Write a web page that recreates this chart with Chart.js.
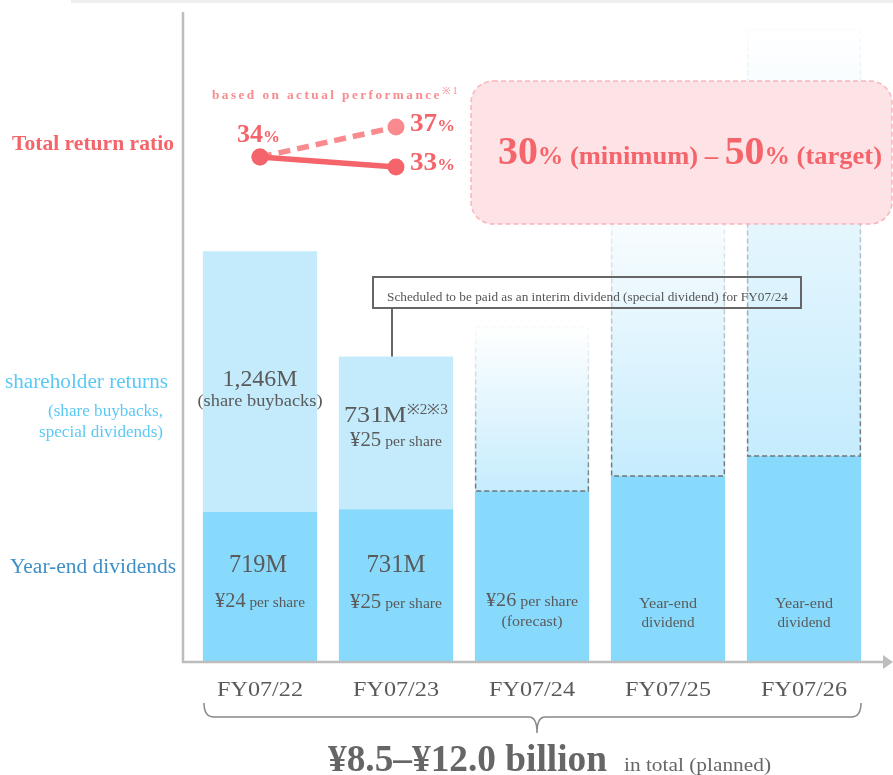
<!DOCTYPE html>
<html>
<head>
<meta charset="utf-8">
<script src="https://cdn.jsdelivr.net/npm/chart.js@4.4.1/dist/chart.umd.min.js"></script>
<style>
  html, body { margin: 0; padding: 0; background: #fff; }
  #wrap { width: 893px; height: 775px; position: relative; }
</style>
</head>
<body>
<div id="wrap"><canvas id="chart" width="893" height="775"></canvas></div>
<script>
// data (millions of yen / %)
const years = ['FY07/22', 'FY07/23', 'FY07/24', 'FY07/25', 'FY07/26'];
const yearEndDividends = [719, 731, 818, 890, 986];
const shareholderReturns = [1246, 731, 785, 1368, 2038];
const ratioActual = [34, 33, null, null, null];
const ratioPerformance = [34, 37, null, null, null];
const ratioLabels = ['34', '33', '37'];

const SERIF = '"Liberation Serif", "Times New Roman", serif';
const DARK_BLUE = '#88dafd';
const LIGHT_BLUE = '#c4ebfc';
const RED = '#f4646a';
const RED_LIGHT = '#f98b8f';
const GRAY_TEXT = '#5a5a5a';

// draws a row of text pieces with their own fonts; w = width to fit (stretches horizontally)
function rich(ctx, parts, x, y, align, w) {
    let total = 0;
    parts.forEach(p => { ctx.font = p.font; total += ctx.measureText(p.t).width; });
    const sx = w ? w / total : 1;
    const full = total * sx;
    let cx = align === 'center' ? x - full / 2 : (align === 'right' ? x - full : x);
    ctx.textAlign = 'left';
    ctx.textBaseline = 'alphabetic';
    parts.forEach(p => {
        ctx.font = p.font;
        if (p.c) ctx.fillStyle = p.c;
        ctx.save();
        ctx.translate(cx, y - (p.dy || 0));
        ctx.scale(sx, 1);
        ctx.fillText(p.t, 0, 0);
        ctx.restore();
        cx += ctx.measureText(p.t).width * sx;
    });
}

const lightFill = (c) => {
    const chart = c.chart;
    if (c.type !== 'data' || c.dataIndex < 2 || !chart.chartArea) return LIGHT_BLUE;
    const y = chart.scales.y;
    const i = c.dataIndex;
    const top = y.getPixelForValue(yearEndDividends[i] + shareholderReturns[i]);
    const bottom = y.getPixelForValue(yearEndDividends[i]);
    const g = chart.ctx.createLinearGradient(0, top, 0, bottom);
    g.addColorStop(0, 'rgba(255,255,255,1)');
    g.addColorStop(0.3, '#eef9fe');
    g.addColorStop(1, '#c6ecfd');
    return g;
};

const decor = {
    id: 'decor',
    afterDatasetsDraw(chart) {
        const ctx = chart.ctx;
        const light = chart.getDatasetMeta(1).data;
        ctx.save();
        // dashed outline of planned returns
        light.forEach((bar, i) => {
            if (i < 2) return;
            const p = bar.getProps(['x', 'y', 'base', 'width'], true);
            const g = ctx.createLinearGradient(0, p.y, 0, p.base);
            g.addColorStop(0, 'rgba(150,170,180,0.05)');
            g.addColorStop(0.35, 'rgba(140,150,155,0.35)');
            g.addColorStop(1, 'rgba(110,110,110,0.95)');
            ctx.strokeStyle = g;
            ctx.lineWidth = 1.5;
            ctx.setLineDash([5, 3]);
            ctx.strokeRect(p.x - p.width / 2 + 0.75, p.y, p.width - 1.5, p.base - p.y);
        });
        ctx.setLineDash([]);
        ctx.restore();
    },
    afterDraw(chart) {
        const ctx = chart.ctx;
        const x = chart.scales.x;
        const light = chart.getDatasetMeta(1).data;
        const perf = chart.getDatasetMeta(2).data;
        const act = chart.getDatasetMeta(3).data;
        ctx.save();

        // top strip
        ctx.fillStyle = '#efefef';
        ctx.fillRect(71, 0, 822, 3);

        // axes
        ctx.strokeStyle = '#bdbdbd';
        ctx.lineWidth = 2.5;
        ctx.beginPath();
        ctx.moveTo(183, 12);
        ctx.lineTo(183, 662);
        ctx.lineTo(885, 662);
        ctx.stroke();
        ctx.fillStyle = '#bdbdbd';
        ctx.beginPath();
        ctx.moveTo(883, 655);
        ctx.lineTo(893, 662);
        ctx.lineTo(883, 669);
        ctx.closePath();
        ctx.fill();

        // left labels
        ctx.fillStyle = RED;
        rich(ctx, [{ t: 'Total return ratio', font: 'bold 22px ' + SERIF }], 12, 150, 'left', 162);
        ctx.fillStyle = '#5cc9f5';
        rich(ctx, [{ t: 'shareholder returns', font: '20px ' + SERIF }], 5, 388, 'left', 163);
        rich(ctx, [{ t: '(share buybacks,', font: '16px ' + SERIF }], 163, 416, 'right', 115);
        rich(ctx, [{ t: 'special dividends)', font: '16px ' + SERIF }], 163, 437, 'right', 124);
        ctx.fillStyle = '#3f8fc6';
        rich(ctx, [{ t: 'Year-end dividends', font: '20px ' + SERIF }], 10, 573, 'left', 166);

        // bar labels
        ctx.fillStyle = GRAY_TEXT;
        const big = '24px ' + SERIF, yen = '20px ' + SERIF, small = '15px ' + SERIF;
        const bx = light.map(b => b.x);
        rich(ctx, [{ t: '1,246M', font: big }], bx[0], 386, 'center', 75);
        rich(ctx, [{ t: '(share buybacks)', font: '17px ' + SERIF }], bx[0], 406, 'center', 125);
        rich(ctx, [{ t: '731M', font: big }, { t: '※2※3', font: '14px ' + SERIF, dy: 8 }], bx[1], 422, 'center', 104);
        rich(ctx, [{ t: '¥25', font: yen }, { t: ' per share', font: small }], bx[1], 446, 'center', 92);
        rich(ctx, [{ t: '719M', font: '25px ' + SERIF }], bx[0] - 2, 572, 'center', 58);
        rich(ctx, [{ t: '731M', font: '25px ' + SERIF }], bx[1], 572, 'center', 59);
        rich(ctx, [{ t: '¥24', font: yen }, { t: ' per share', font: small }], bx[0], 607, 'center', 90);
        rich(ctx, [{ t: '¥25', font: yen }, { t: ' per share', font: small }], bx[1], 608, 'center', 92);
        rich(ctx, [{ t: '¥26', font: '19px ' + SERIF }, { t: ' per share', font: small }], bx[2], 606, 'center', 92);
        rich(ctx, [{ t: '(forecast)', font: small }], bx[2], 626, 'center', 61);
        [3, 4].forEach(i => {
            rich(ctx, [{ t: 'Year-end', font: small }], bx[i], 608, 'center', 58);
            rich(ctx, [{ t: 'dividend', font: small }], bx[i], 627, 'center', 53);
        });

        // callout
        ctx.strokeStyle = '#666';
        ctx.lineWidth = 2;
        ctx.strokeRect(373, 277, 428, 31);
        ctx.beginPath();
        ctx.moveTo(392, 308);
        ctx.lineTo(392, light[1].y);
        ctx.stroke();
        ctx.fillStyle = '#555';
        rich(ctx, [{ t: 'Scheduled to be paid as an interim dividend (special dividend) for FY07/24', font: '12px ' + SERIF }], 387, 301, 'left', 401);

        // target box
        ctx.beginPath();
        ctx.roundRect(471, 81, 421, 143, 22);
        ctx.fillStyle = '#fde3e6';
        ctx.fill();
        ctx.setLineDash([5, 3]);
        ctx.strokeStyle = '#f8b5bb';
        ctx.lineWidth = 1.5;
        ctx.stroke();
        ctx.setLineDash([]);
        ctx.fillStyle = RED;
        const num = 'bold 39px ' + SERIF, pct = 'bold 25px ' + SERIF, word = 'bold 26px ' + SERIF;
        rich(ctx, [
            { t: '30', font: num }, { t: '%', font: pct }, { t: ' (minimum) ', font: word },
            { t: '–', font: word }, { t: ' ', font: word },
            { t: '50', font: num }, { t: '%', font: pct }, { t: ' (target)', font: word }
        ], 690, 164, 'center', 384);

        // ratio labels
        ctx.letterSpacing = '2.4px';
        ctx.fillStyle = RED_LIGHT;
        rich(ctx, [{ t: 'based on actual performance', font: 'bold 13px ' + SERIF }, { t: '※1', font: '10px ' + SERIF, dy: 5 }], 212, 99, 'left', 248);
        ctx.letterSpacing = '0px';
        ctx.fillStyle = RED;
        const pnum = 'bold 26px ' + SERIF, ppct = 'bold 17px ' + SERIF;
        rich(ctx, [{ t: ratioLabels[0], font: pnum }, { t: '%', font: ppct }], act[0].x - 23, act[0].y - 15, 'left', 43);
        rich(ctx, [{ t: ratioLabels[1], font: pnum }, { t: '%', font: ppct }], 410, act[1].y + 3, 'left', 45);
        rich(ctx, [{ t: ratioLabels[2], font: pnum }, { t: '%', font: ppct }], 410, perf[1].y + 4, 'left', 45);

        // category labels
        ctx.fillStyle = GRAY_TEXT;
        years.forEach((yr, i) => {
            rich(ctx, [{ t: yr, font: '20px ' + SERIF }], x.getPixelForValue(i), 696, 'center', 86);
        });

        // brace
        ctx.strokeStyle = '#888';
        ctx.lineWidth = 1.5;
        ctx.beginPath();
        ctx.moveTo(204, 703);
        ctx.quadraticCurveTo(204, 717, 214, 717);
        ctx.lineTo(529, 717);
        ctx.quadraticCurveTo(537, 717, 537, 733);
        ctx.quadraticCurveTo(537, 717, 545, 717);
        ctx.lineTo(851, 717);
        ctx.quadraticCurveTo(861, 717, 861, 703);
        ctx.stroke();

        ctx.fillStyle = '#666';
        rich(ctx, [{ t: '¥8.5–¥12.0 billion', font: 'bold 37px ' + SERIF }], 328, 771, 'left', 279);
        rich(ctx, [{ t: 'in total (planned)', font: '18px ' + SERIF }], 624, 771, 'left', 147);

        ctx.restore();
    }
};

new Chart(document.getElementById('chart').getContext('2d'), {
    data: {
        labels: years,
        datasets: [
            {
                type: 'bar',
                label: 'Year-end dividends',
                data: yearEndDividends,
                backgroundColor: DARK_BLUE,
                borderWidth: 0,
                stack: 's',
                order: 2
            },
            {
                type: 'bar',
                label: 'shareholder returns',
                data: shareholderReturns,
                backgroundColor: lightFill,
                borderWidth: 0,
                stack: 's',
                order: 2
            },
            {
                type: 'line',
                label: 'based on actual performance',
                data: ratioPerformance,
                yAxisID: 'y2',
                borderColor: RED_LIGHT,
                backgroundColor: RED_LIGHT,
                borderWidth: 5.5,
                borderDash: [12, 7],
                pointRadius: 8.5,
                pointBorderWidth: 0,
                pointBackgroundColor: [RED, RED_LIGHT],
                order: 1
            },
            {
                type: 'line',
                label: 'Total return ratio',
                data: ratioActual,
                yAxisID: 'y2',
                borderColor: RED,
                backgroundColor: RED,
                borderWidth: 5.5,
                pointRadius: 8.5,
                pointBorderWidth: 0,
                order: 0
            }
        ]
    },
    options: {
        responsive: false,
        animation: false,
        layout: { padding: { left: 192, right: 21, top: 14, bottom: 113 } },
        plugins: { legend: { display: false }, tooltip: { enabled: false } },
        datasets: { bar: { categoryPercentage: 1, barPercentage: 0.84 } },
        scales: {
            x: { display: false, stacked: true },
            y: { display: false, stacked: true, min: 0, max: 3100 },
            y2: { display: false, min: -16.5, max: 48.3 }
        }
    },
    plugins: [decor]
});
</script>
</body>
</html>
